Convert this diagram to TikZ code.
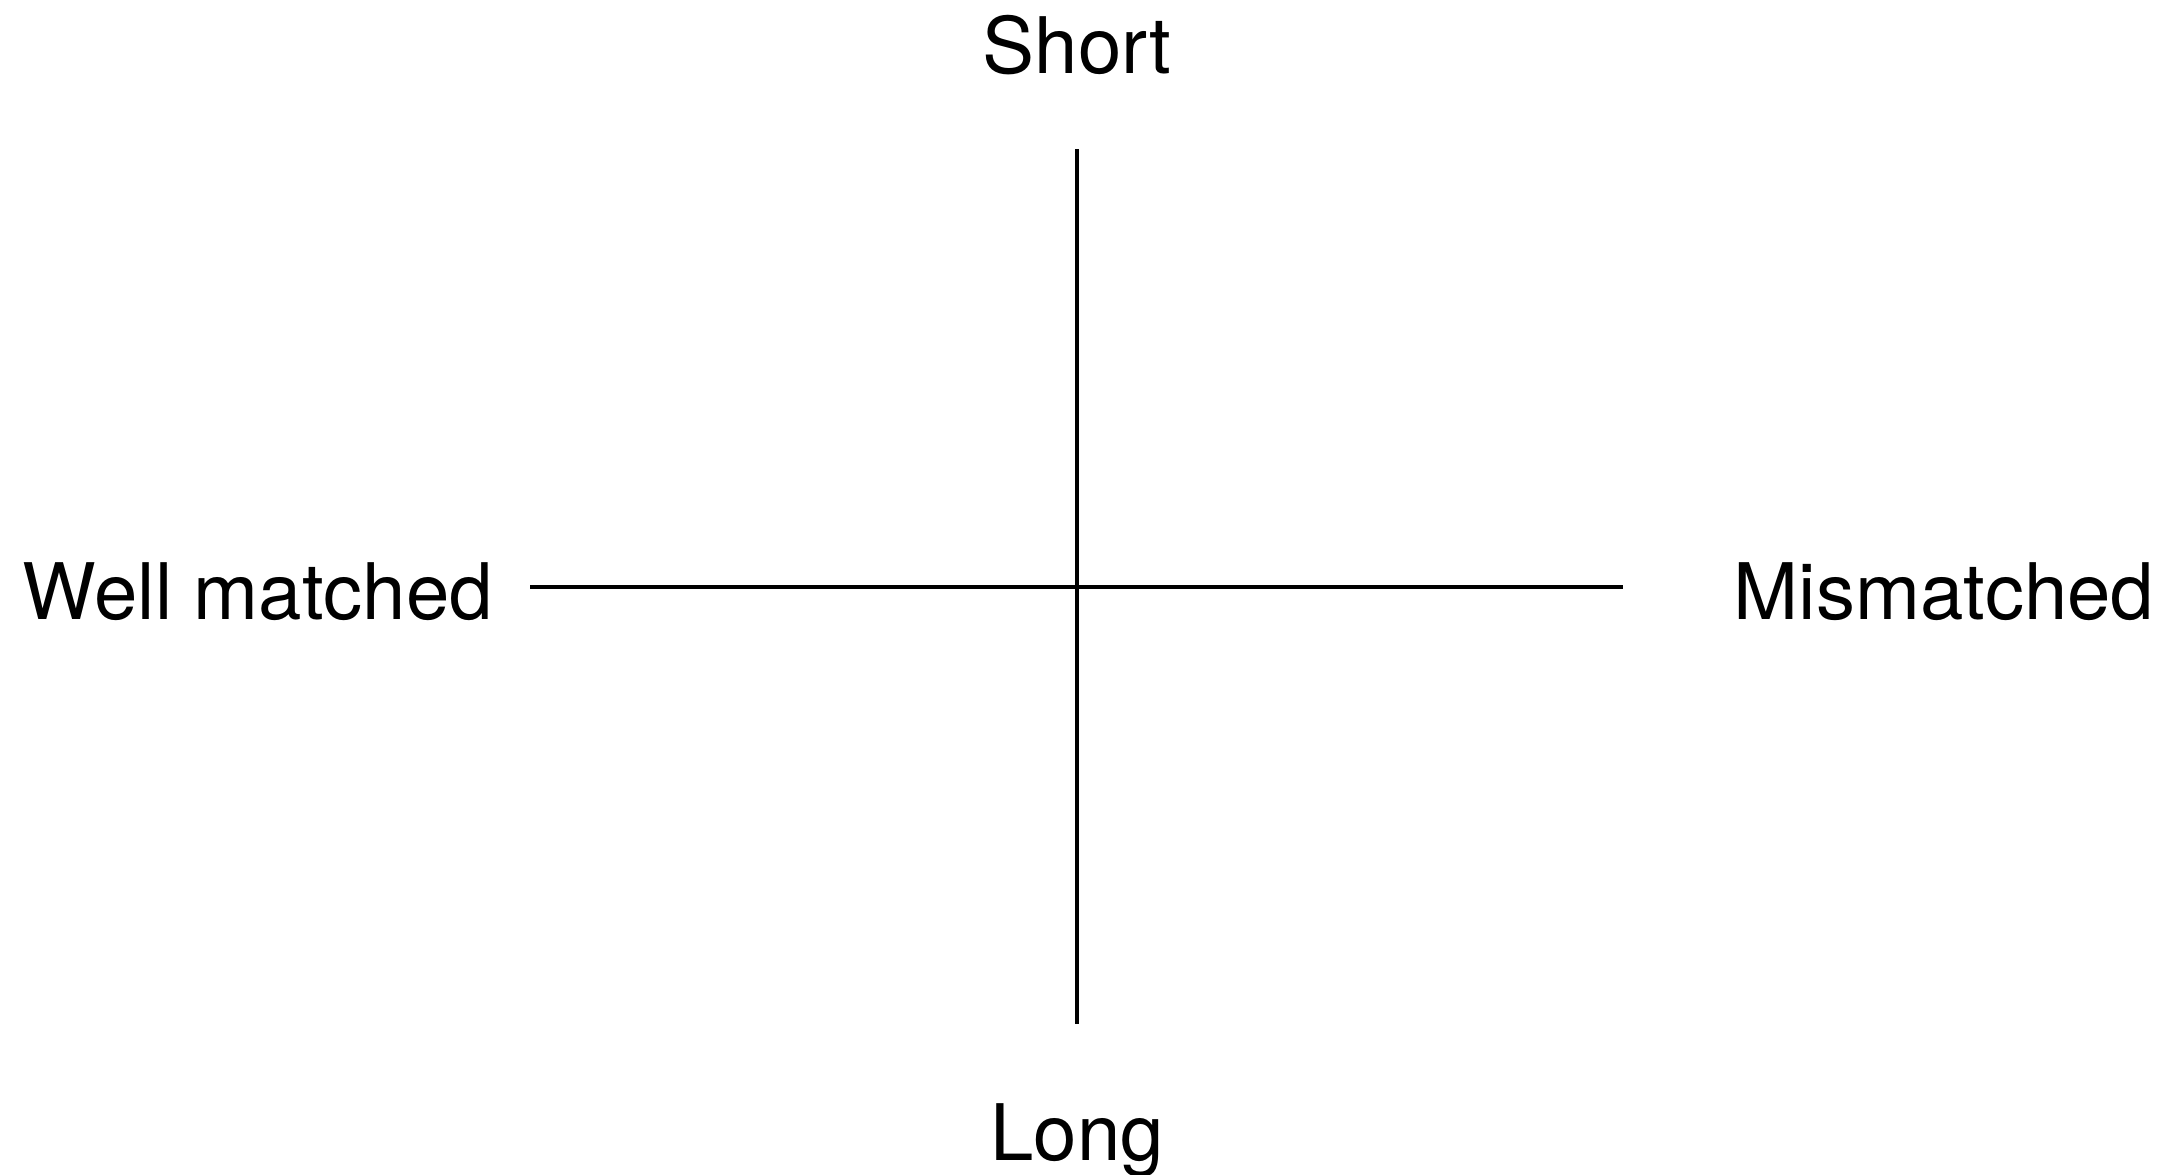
\documentclass[tikz,border=0pt]{standalone}
\usepackage{fontspec}
\setmainfont{TeX Gyre Heros}
\begin{document}
\begin{tikzpicture}[x=0.5pt,y=-0.5pt,
  lbl/.style={anchor=base,inner sep=0pt,font=\fontsize{39}{46}\selectfont},
  axis/.style={line width=2.4pt,black}]
\useasboundingbox (0,0) rectangle (2182,1174);
\node[lbl] (short) at (1077,73) {Short};
\node[lbl] (long) at (1077,1160) {Long};
\node[lbl] (well) at (258,619) {Well matched};
\node[lbl] (mis) at (1944,619) {Mismatched};
\coordinate (vt) at (1077,149);
\coordinate (vb) at (1077,1024);
\coordinate (hl) at (530,587);
\coordinate (hr) at (1623,587);
\draw[axis] (vt) -- (vb);
\draw[axis] (hl) -- (hr);
\end{tikzpicture}
\end{document}
